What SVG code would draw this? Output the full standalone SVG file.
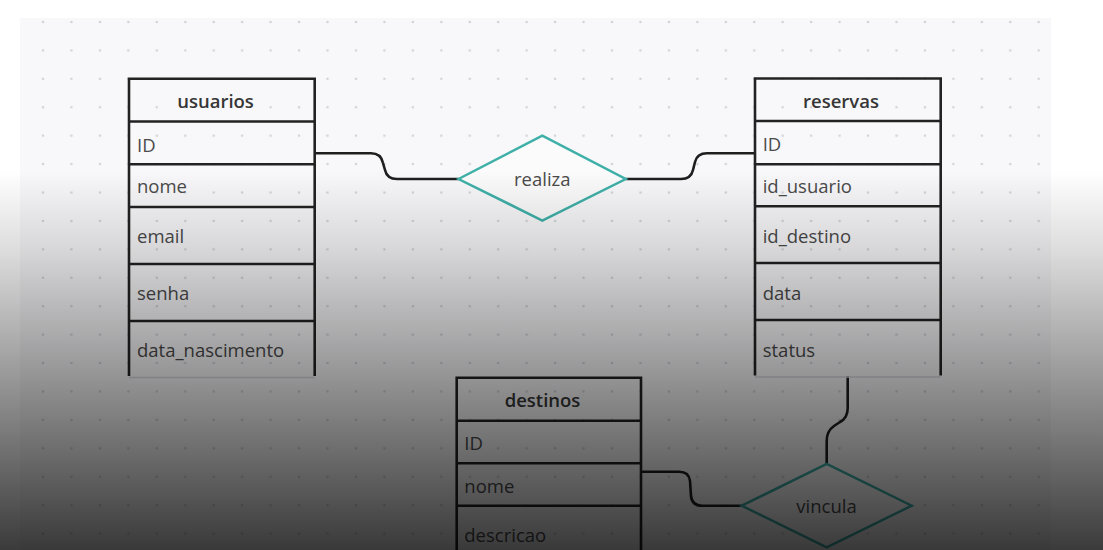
<svg xmlns="http://www.w3.org/2000/svg" width="1103" height="550" viewBox="0 0 1103 550">
<style>
.tb{fill:none;stroke:#222;stroke-width:2.6}
.ln{stroke:#222;stroke-width:2.6}
.bt{stroke:#d6d7dc;stroke-width:1.6}
.hd{font-family:"Open Sans","Noto Sans",sans-serif;font-size:18.5px;font-weight:600;fill:#363636;text-anchor:middle}
.tx{font-family:"Open Sans","Noto Sans",sans-serif;font-size:18.5px;fill:#4a4a4a}
.rl{fill:#fbfbfc;stroke:#3fb0a8;stroke-width:2.5}
.rt{font-family:"Open Sans","Noto Sans",sans-serif;font-size:18.5px;fill:#4a4a4a;text-anchor:middle}
.cn{fill:none;stroke:#1e1e1e;stroke-width:2.6}
</style>
<defs>
<pattern id="dots" x="43" y="22" width="28.45" height="28.42" patternUnits="userSpaceOnUse">
<circle cx="0" cy="0" r="1.3" fill="#d2d3d9"/>
<circle cx="28.45" cy="0" r="1.3" fill="#d2d3d9"/>
<circle cx="0" cy="28.42" r="1.3" fill="#d2d3d9"/>
<circle cx="28.45" cy="28.42" r="1.3" fill="#d2d3d9"/>
</pattern>
<linearGradient id="shade" x1="0" y1="0" x2="0" y2="550" gradientUnits="userSpaceOnUse">
<stop offset="0.31" stop-color="#000" stop-opacity="0"/>
<stop offset="0.45" stop-color="#000" stop-opacity="0.13"/>
<stop offset="1" stop-color="#000" stop-opacity="0.77"/>
</linearGradient>
</defs>
<rect x="0" y="0" width="1103" height="550" fill="#ffffff"/>
<rect x="20" y="18" width="1031" height="532" fill="#f8f8fa"/>
<rect x="20" y="18" width="1031" height="532" fill="url(#dots)"/>

<g id="connectors">
<path class="cn" d="M315,153.3 H371 Q381,153.3 383,163 L385,170 Q387,179 397,179 H458.5"/>
<path class="cn" d="M625.7,179 H681 Q691,179 693,170 L695,162 Q697,153.3 707,153.3 H755"/>
<path class="cn" d="M847.7,376 V408 Q847.7,418 840,422 L834,426 Q826.7,431 826.7,441 V464"/>
<path class="cn" d="M641,471.7 H679 Q689,471.7 690,481 L691,496 Q692,505.7 702,505.7 H741.7"/>
</g>

<g id="usuarios">
<line class="bt" x1="129" y1="377.5" x2="314.7" y2="377.5"/>
<path class="tb" d="M129,376 V78.7 H314.7 V376"/>
<line class="ln" x1="129" y1="121.5" x2="314.7" y2="121.5"/>
<line class="ln" x1="129" y1="164.2" x2="314.7" y2="164.2"/>
<line class="ln" x1="129" y1="207" x2="314.7" y2="207"/>
<line class="ln" x1="129" y1="264" x2="314.7" y2="264"/>
<line class="ln" x1="129" y1="321" x2="314.7" y2="321"/>
<text class="hd" x="215.5" y="108.3">usuarios</text>
<text class="tx" x="137" y="151.5">ID</text>
<text class="tx" x="137" y="193.3">nome</text>
<text class="tx" x="137" y="243.3">email</text>
<text class="tx" x="137" y="300.2">senha</text>
<text class="tx" x="137" y="357">data_nascimento</text>
</g>

<g id="reservas">
<line class="bt" x1="755" y1="377" x2="940.7" y2="377"/>
<path class="tb" d="M755,375.5 V78.5 H940.7 V375.5"/>
<line class="ln" x1="755" y1="121" x2="940.7" y2="121"/>
<line class="ln" x1="755" y1="164.3" x2="940.7" y2="164.3"/>
<line class="ln" x1="755" y1="206.3" x2="940.7" y2="206.3"/>
<line class="ln" x1="755" y1="263" x2="940.7" y2="263"/>
<line class="ln" x1="755" y1="320" x2="940.7" y2="320"/>
<text class="hd" x="841" y="107.5">reservas</text>
<text class="tx" x="762.7" y="151">ID</text>
<text class="tx" x="762.7" y="193.3">id_usuario</text>
<text class="tx" x="762.7" y="243.3">id_destino</text>
<text class="tx" x="762.7" y="300">data</text>
<text class="tx" x="762.7" y="356.7">status</text>
</g>

<g id="destinos">
<path class="tb" d="M456.7,552 V377.7 H641 V552"/>
<line class="ln" x1="456.7" y1="420.7" x2="641" y2="420.7"/>
<line class="ln" x1="456.7" y1="463.3" x2="641" y2="463.3"/>
<line class="ln" x1="456.7" y1="505.7" x2="641" y2="505.7"/>
<text class="hd" x="542.5" y="406.7">destinos</text>
<text class="tx" x="464.3" y="450">ID</text>
<text class="tx" x="464.3" y="492.7">nome</text>
<text class="tx" x="464.3" y="541.7">descricao</text>
</g>

<g id="realiza">
<polygon class="rl" points="458.5,179 542.3,135.7 625.7,179 542.3,220.5"/>
<text class="rt" x="542.3" y="185.5">realiza</text>
</g>

<g id="vincula">
<polygon class="rl" points="741.7,505.7 826.7,464 911.7,505.7 826.7,547.3"/>
<text class="rt" x="826.5" y="513">vincula</text>
</g>

<rect x="0" y="0" width="1103" height="550" fill="url(#shade)" pointer-events="none"/>
</svg>
